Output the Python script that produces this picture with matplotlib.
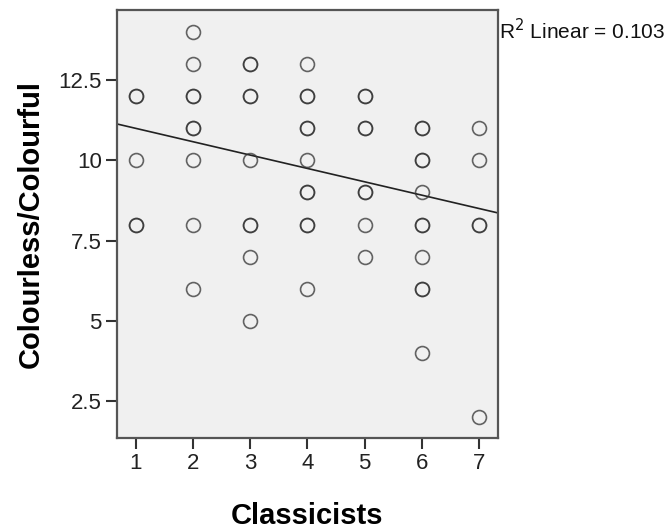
import matplotlib.pyplot as plt

plt.rcParams['font.family'] = ['Liberation Sans', 'DejaVu Sans']

# Classicists (x) vs Colourless/Colourful (y); repeated pairs are overlapping cases
classicists = [1, 1, 1, 1, 1,
               2, 2, 2, 2, 2, 2, 2, 2, 2,
               3, 3, 3, 3, 3, 3, 3, 3, 3,
               4, 4, 4, 4, 4, 4, 4, 4, 4, 4, 4,
               5, 5, 5, 5, 5, 5, 5, 5,
               6, 6, 6, 6, 6, 6, 6, 6, 6, 6, 6,
               7, 7, 7, 7, 7]
colourful = [12, 12, 10, 8, 8,
             14, 13, 12, 12, 11, 11, 10, 8, 6,
             13, 13, 12, 12, 10, 8, 8, 7, 5,
             13, 12, 12, 11, 11, 10, 9, 9, 8, 8, 6,
             12, 12, 11, 11, 9, 9, 8, 7,
             11, 11, 10, 10, 9, 8, 8, 7, 6, 6, 4,
             11, 10, 8, 8, 2]

# fit line as shown in the chart
fit_intercept = 11.41
fit_slope = -0.416
r2_text = "R$^2$ Linear = 0.103"

x_ticks = [1, 2, 3, 4, 5, 6, 7]
y_ticks = [2.5, 5, 7.5, 10, 12.5]

fig = plt.figure(figsize=(6.72, 5.29), dpi=100)
ax = fig.add_axes([0.174, 0.172, 0.567, 0.809])
ax.set_facecolor('#f0f0f0')

ax.plot(classicists, colourful, 'o', markersize=10, markerfacecolor='none',
        markeredgecolor='#333333', markeredgewidth=1.2, alpha=0.75, zorder=3)

x0, x1 = 0.668, 7.33
ax.plot([x0, x1], [fit_intercept + fit_slope * x0, fit_intercept + fit_slope * x1],
        color='#222222', lw=1.2, zorder=2)

ax.set_xlim(x0, x1)
ax.set_ylim(1.35, 14.68)
ax.set_xticks(x_ticks)
ax.set_yticks(y_ticks)
ax.set_xticklabels([str(v) for v in x_ticks])
ax.set_yticklabels(['2.5', '5', '7.5', '10', '12.5'])
ax.tick_params(direction='out', length=8, width=1.5, colors='#333333',
               labelsize=16, labelcolor='#222222', pad=3)

for s in ax.spines.values():
    s.set_color('#555555')
    s.set_linewidth(1.6)

ax.set_xlabel('Classicists', fontsize=21, fontweight='bold', labelpad=20)
ax.set_ylabel('Colourless/Colourful', fontsize=21, fontweight='bold', labelpad=10)

fig.text(0.742, 0.943, r2_text, fontsize=15, ha='left', va='center', color='#111111')

fig.savefig('out.png', dpi=100)
